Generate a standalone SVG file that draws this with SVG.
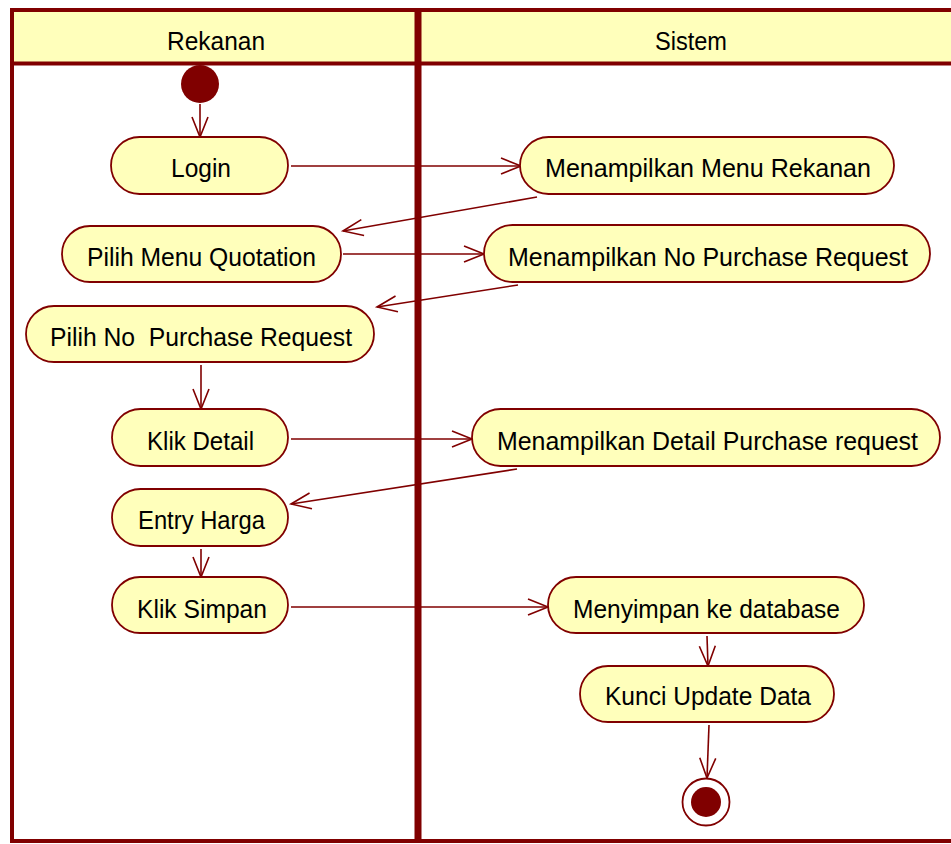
<svg xmlns="http://www.w3.org/2000/svg" width="951" height="844" viewBox="0 0 951 844">
  <style>
    .lane { fill: none; stroke: #800000; stroke-width: 4; }
    .head { fill: #FFFFBB; }
    .act rect { fill: #FFFFBB; stroke: #800000; stroke-width: 1.8; }
    .act text, .title { font-family: "Liberation Sans", Arial, sans-serif; font-size: 26px; fill: #000; text-anchor: start; white-space: pre; }
    .flow line { stroke: #800000; stroke-width: 1.6; fill: none; marker-end: url(#arr); }
  </style>
  <defs>
    <marker id="arr" markerUnits="userSpaceOnUse" markerWidth="24" markerHeight="20" viewBox="0 0 24 20" refX="21" refY="9" orient="auto">
      <path d="M1,1 L21,9 L1,17" fill="none" stroke="#800000" stroke-width="1.6"/>
    </marker>
  </defs>
  <rect width="951" height="844" fill="#fff"/>

  <!-- swimlanes -->
  <g id="lanes">
    <rect class="head" x="12" y="10" width="945" height="54"/>
    <rect class="lane" x="12" y="10" width="945" height="831"/>
    <line x1="12" y1="63.5" x2="957" y2="63.5" stroke="#800000" stroke-width="4"/>
    <line x1="418" y1="10" x2="418" y2="841" stroke="#800000" stroke-width="7"/>
    <text class="title" x="167" y="50" textLength="98" lengthAdjust="spacingAndGlyphs">Rekanan</text>
    <text class="title" x="655" y="50" textLength="72" lengthAdjust="spacingAndGlyphs">Sistem</text>
  </g>

  <!-- connectors -->
  <g id="connectors" class="flow">
    <line x1="200" y1="104" x2="200" y2="137"/>
    <line x1="291" y1="166" x2="521" y2="166"/>
    <line x1="537" y1="197" x2="343" y2="231"/>
    <line x1="343" y1="254" x2="484" y2="254"/>
    <line x1="518" y1="285" x2="377" y2="307"/>
    <line x1="201" y1="365" x2="201" y2="409"/>
    <line x1="291" y1="439" x2="472" y2="439"/>
    <line x1="517" y1="469" x2="291" y2="504"/>
    <line x1="201" y1="549" x2="201" y2="577"/>
    <line x1="291" y1="607" x2="548" y2="607"/>
    <line x1="707" y1="636" x2="708" y2="666"/>
    <line x1="709" y1="725" x2="707" y2="778"/>
  </g>

  <!-- nodes -->
  <g id="start">
    <circle cx="200" cy="84" r="19" fill="#800000"/>
  </g>
  <g id="login" class="act">
    <rect x="111" y="137" width="177" height="57" rx="28.5"/>
    <text x="171" y="177" textLength="60" lengthAdjust="spacingAndGlyphs">Login</text>
  </g>
  <g id="menu-rekanan" class="act">
    <rect x="520" y="137" width="374" height="57" rx="28.5"/>
    <text x="545" y="177" textLength="326" lengthAdjust="spacingAndGlyphs">Menampilkan Menu Rekanan</text>
  </g>
  <g id="pilih-menu" class="act">
    <rect x="62" y="226" width="279" height="56" rx="28"/>
    <text x="87" y="266" textLength="229" lengthAdjust="spacingAndGlyphs">Pilih Menu Quotation</text>
  </g>
  <g id="tampil-no-pr" class="act">
    <rect x="484" y="225" width="446" height="57" rx="28.5"/>
    <text x="508" y="266" textLength="400" lengthAdjust="spacingAndGlyphs">Menampilkan No Purchase Request</text>
  </g>
  <g id="pilih-no-pr" class="act">
    <rect x="26" y="306" width="348" height="56" rx="28"/>
    <text x="50" y="346" textLength="302" lengthAdjust="spacingAndGlyphs">Pilih No  Purchase Request</text>
  </g>
  <g id="klik-detail" class="act">
    <rect x="112" y="409" width="176" height="57" rx="28.5"/>
    <text x="147" y="450" textLength="107" lengthAdjust="spacingAndGlyphs">Klik Detail</text>
  </g>
  <g id="tampil-detail" class="act">
    <rect x="472" y="409" width="468" height="57" rx="28.5"/>
    <text x="497" y="450" textLength="421" lengthAdjust="spacingAndGlyphs">Menampilkan Detail Purchase request</text>
  </g>
  <g id="entry-harga" class="act">
    <rect x="112" y="489" width="176" height="57" rx="28.5"/>
    <text x="138" y="529" textLength="127" lengthAdjust="spacingAndGlyphs">Entry Harga</text>
  </g>
  <g id="klik-simpan" class="act">
    <rect x="112" y="577" width="176" height="56" rx="28"/>
    <text x="137" y="618" textLength="130" lengthAdjust="spacingAndGlyphs">Klik Simpan</text>
  </g>
  <g id="simpan-db" class="act">
    <rect x="548" y="577" width="316" height="56" rx="28"/>
    <text x="573" y="618" textLength="267" lengthAdjust="spacingAndGlyphs">Menyimpan ke database</text>
  </g>
  <g id="kunci-update" class="act">
    <rect x="580" y="666" width="254" height="56" rx="28"/>
    <text x="605" y="705" textLength="206" lengthAdjust="spacingAndGlyphs">Kunci Update Data</text>
  </g>
  <g id="end">
    <circle cx="706" cy="802" r="23.5" fill="#fff" stroke="#800000" stroke-width="1.8"/>
    <circle cx="706" cy="802" r="15" fill="#800000"/>
  </g>
</svg>
